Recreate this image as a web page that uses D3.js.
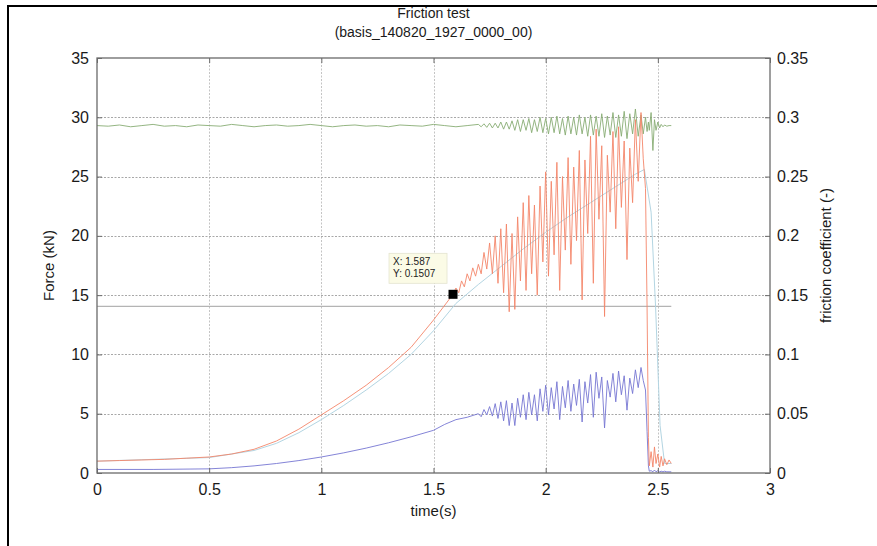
<!DOCTYPE html>
<html>
<head>
<meta charset="utf-8">
<script src="https://cdn.jsdelivr.net/npm/d3@7"></script>
<style>
  html, body { margin: 0; padding: 0; background: #fff; }
  svg { display: block; font-family: "Liberation Sans", Arial, sans-serif; }
</style>
</head>
<body>
<svg id="chart" width="877" height="546"></svg>
<script>
// ---------------- DATA ----------------
const titleLines = ["Friction test", "(basis_140820_1927_0000_00)"];
const xTicks = [0, 0.5, 1, 1.5, 2, 2.5, 3];
const forceTicks = [0, 5, 10, 15, 20, 25, 30, 35];
const coefTicks = [0, 0.05, 0.1, 0.15, 0.2, 0.25, 0.3, 0.35];

// shared time samples for the oscillating section and the tail
const oscTime = [1.7000,1.7125,1.7250,1.7375,1.7500,1.7625,1.7750,1.7875,1.8000,1.8125,
  1.8250,1.8375,1.8500,1.8625,1.8750,1.8875,1.9000,1.9125,1.9250,1.9375,
  1.9500,1.9625,1.9750,1.9875,2.0000,2.0125,2.0250,2.0375,2.0500,2.0625,
  2.0750,2.0875,2.1000,2.1125,2.1250,2.1375,2.1500,2.1625,2.1750,2.1875,
  2.2000,2.2125,2.2250,2.2375,2.2500,2.2625,2.2750,2.2875,2.3000,2.3125,
  2.3250,2.3375,2.3500,2.3625,2.3750,2.3875,2.4000,2.4125,2.4250];
const tailTime = [2.435,2.445,2.452,2.458,2.462,2.470,2.478,2.485,2.492,2.500,2.508,2.515,2.523,2.530,2.540,2.550,2.560];

// friction coefficient (red, right axis)
const redLeadTime = [0,0.1,0.2,0.3,0.4,0.5,0.6,0.7,0.8,0.9,1.0,1.1,1.2,1.3,1.4,1.5,1.587,1.6,1.6125,1.625,1.6375,1.65,1.6625,1.675,1.6875];
const redLead = [0.0100,0.0105,0.0110,0.0115,0.0125,0.0135,0.0160,0.0200,0.0270,0.0370,0.0490,0.0610,0.0740,0.0890,0.1060,0.1290,0.1507,0.1560,0.1520,0.1620,0.1570,0.1680,0.1620,0.1730,0.1660];
const redOsc = [0.176,0.168,0.186,0.172,0.194,0.168,0.200,0.160,0.206,0.152,
  0.210,0.136,0.202,0.138,0.216,0.162,0.228,0.154,0.234,0.168,
  0.226,0.150,0.242,0.178,0.254,0.166,0.246,0.184,0.262,0.154,
  0.250,0.188,0.266,0.176,0.258,0.196,0.272,0.146,0.264,0.202,
  0.284,0.160,0.290,0.214,0.276,0.132,0.268,0.220,0.288,0.206,
  0.292,0.224,0.280,0.180,0.274,0.228,0.298,0.246,0.304];
const redTail = [0.265,0.240,0.140,0.030,0.006,0.018,0.005,0.022,0.008,0.016,0.005,0.014,0.006,0.012,0.007,0.011,0.008];

// smoothed friction coefficient (light blue, right axis)
const cyanTime = [0,0.5,0.7,0.8,0.9,1.0,1.1,1.2,1.3,1.4,1.5,1.6,1.7,1.8,1.9,2.0,2.1,2.2,2.3,2.4,2.44,2.47,2.49,2.51,2.53,2.56];
const cyanCoef = [0.010,0.013,0.019,0.025,0.034,0.045,0.057,0.070,0.084,0.100,0.120,0.143,0.159,0.174,0.189,0.203,0.216,0.228,0.240,0.252,0.256,0.220,0.140,0.040,0.008,0.008];

// friction force (blue, left axis, kN)
const blueLeadTime = [0,0.25,0.5,0.6,0.7,0.8,0.9,1.0,1.1,1.2,1.3,1.4,1.5,1.55,1.6,1.65];
const blueLead = [0.30,0.30,0.35,0.45,0.60,0.80,1.05,1.35,1.70,2.10,2.55,3.05,3.60,4.10,4.50,4.70];
const blueOsc = [5.0,4.75,5.35,4.9,5.6,4.8,5.85,4.6,6.0,4.4,
  6.1,4.0,5.9,4.0,6.3,4.7,6.6,4.5,6.8,4.9,
  6.6,4.4,7.1,5.2,7.4,4.9,7.2,5.4,7.7,4.5,
  7.3,5.5,7.8,5.2,7.5,5.7,7.9,4.3,7.7,5.9,
  8.3,4.7,8.5,6.3,8.1,3.8,7.8,6.4,8.4,6.0,
  8.6,6.6,8.2,5.3,8.0,6.7,8.7,7.2,8.9];
const blueTail = [7.8,7.0,3.5,0.6,0.15,0.2,0.1,0.25,0.1,0.2,0.1,0.15,0.1,0.15,0.1,0.1,0.1];

// normal force (green, left axis, kN)
const greenLeadTime = [0,0.05,0.1,0.15,0.2,0.25,0.3,0.35,0.4,0.45,0.5,0.55,0.6,0.65,0.7,0.75,0.8,0.85,0.9,0.95,
  1.0,1.05,1.1,1.15,1.2,1.25,1.3,1.35,1.4,1.45,1.5,1.55,1.6,1.65];
const greenLead = [29.3,29.25,29.35,29.2,29.3,29.4,29.25,29.3,29.2,29.35,29.3,29.25,29.4,29.3,29.2,29.3,29.35,29.25,29.3,29.4,
  29.3,29.2,29.3,29.35,29.25,29.3,29.2,29.35,29.3,29.25,29.4,29.3,29.2,29.3];
const greenOsc = [29.4,29.2,29.45,29.15,29.5,29.1,29.5,29.1,29.6,29.0,
  29.6,29.0,29.7,28.9,29.8,28.8,29.8,28.9,29.9,28.7,
  29.8,28.8,30.0,28.7,29.9,28.6,30.0,28.7,30.1,28.6,
  29.9,28.5,30.1,28.6,30.0,28.5,30.2,28.6,30.0,28.4,
  30.2,28.5,30.1,28.4,30.3,28.3,30.1,28.5,30.4,28.3,
  30.2,28.4,30.5,28.2,30.3,28.6,30.7,28.4,30.2];
const greenTail = [28.6,30.0,28.8,29.6,28.9,30.4,27.2,29.8,28.9,29.6,29.1,29.4,29.2,29.35,29.25,29.3,29.3];

// reference level (grey, left axis, kN)
const refTime = [0, 2.56];
const refForce = [14.05, 14.05];

// data tip
const tipX = 1.587, tipY = 0.1507;

// ---------------- DRAW ----------------
const svg = d3.select("#chart");
const L = 97, R = 770, T = 58, B = 473;
const x = d3.scaleLinear().domain([0, 3]).range([L, R]);
const yF = d3.scaleLinear().domain([0, 35]).range([B, T]);
const yC = d3.scaleLinear().domain([0, 0.35]).range([B, T]);

// figure frame
svg.append("line").attr("x1", 8).attr("y1", 6).attr("x2", 8).attr("y2", 546).attr("stroke", "#000").attr("stroke-width", 2);
svg.append("line").attr("x1", 7).attr("y1", 6).attr("x2", 877).attr("y2", 6).attr("stroke", "#000").attr("stroke-width", 2);

// grid
const grid = svg.append("g").attr("stroke", "#c4c4c4").attr("stroke-width", 1).attr("stroke-dasharray", "2,1.5");
grid.selectAll(".vg").data(xTicks.slice(1, -1)).join("line")
  .attr("x1", d => Math.round(x(d)) + 0.5).attr("x2", d => Math.round(x(d)) + 0.5)
  .attr("y1", T).attr("y2", B);
grid.selectAll(".hg").data(forceTicks.slice(1, -1)).join("line")
  .attr("x1", L).attr("x2", R)
  .attr("y1", d => Math.round(yF(d)) + 0.5).attr("y2", d => Math.round(yF(d)) + 0.5)
  .attr("stroke", "#a8a8a8");

// series helpers
function pts(tArr, vArr) { return tArr.map((t, i) => [t, vArr[i]]); }
const lineF = d3.line().x(d => x(d[0])).y(d => yF(d[1]));
const lineC = d3.line().x(d => x(d[0])).y(d => yC(d[1]));

const refData = pts(refTime, refForce);
const greenData = pts(greenLeadTime, greenLead).concat(pts(oscTime, greenOsc), pts(tailTime, greenTail));
const blueData = pts(blueLeadTime, blueLead).concat(pts(oscTime, blueOsc), pts(tailTime, blueTail));
const redData = pts(redLeadTime, redLead).concat(pts(oscTime, redOsc), pts(tailTime, redTail));
const cyanData = pts(cyanTime, cyanCoef);

svg.append("path").datum(refData).attr("d", lineF).attr("fill", "none").attr("stroke", "#b4b4b4").attr("stroke-width", 1.2);
svg.append("path").datum(greenData).attr("d", lineF).attr("fill", "none").attr("stroke", "#88ad74").attr("stroke-width", 0.9);
svg.append("path").datum(cyanData).attr("d", lineC).attr("fill", "none").attr("stroke", "#b3d5e2").attr("stroke-width", 1);
svg.append("path").datum(blueData).attr("d", lineF).attr("fill", "none").attr("stroke", "#7676d2").attr("stroke-width", 0.9);
svg.append("path").datum(redData).attr("d", lineC).attr("fill", "none").attr("stroke", "#f4866a").attr("stroke-width", 0.9);

// axes
const axisColor = "#6a6a6a";
function styleAxis(g) {
  g.select(".domain").remove();
  g.selectAll(".tick line").attr("stroke", axisColor);
  g.selectAll(".tick text").attr("fill", "#1a1a1a").attr("font-size", 16);
}
svg.append("g").attr("transform", `translate(0,${B})`)
  .call(d3.axisBottom(x).tickValues(xTicks).tickFormat(d3.format("~g")).tickSizeInner(-5).tickSizeOuter(0).tickPadding(11))
  .call(styleAxis);
svg.append("g").attr("transform", `translate(0,${T})`)
  .call(d3.axisTop(x).tickValues(xTicks).tickFormat("").tickSizeInner(-5).tickSizeOuter(0))
  .call(styleAxis);
svg.append("g").attr("transform", `translate(${L},0)`)
  .call(d3.axisLeft(yF).tickValues(forceTicks).tickSizeInner(-5).tickSizeOuter(0).tickPadding(8))
  .call(styleAxis);
svg.append("g").attr("transform", `translate(${R},0)`)
  .call(d3.axisRight(yC).tickValues(coefTicks).tickFormat(d3.format("~g")).tickSizeInner(-5).tickSizeOuter(0).tickPadding(7))
  .call(styleAxis);

// axes box
svg.append("rect").attr("x", L).attr("y", T).attr("width", R - L).attr("height", B - T)
  .attr("fill", "none").attr("stroke", axisColor).attr("stroke-width", 1.3);

// titles
svg.append("text").attr("x", (L + R) / 2).attr("y", 18).attr("text-anchor", "middle")
  .attr("font-size", 14).attr("fill", "#1a1a1a").text(titleLines[0]);
svg.append("text").attr("x", (L + R) / 2).attr("y", 37).attr("text-anchor", "middle")
  .attr("font-size", 14).attr("fill", "#1a1a1a").text(titleLines[1]);
svg.append("text").attr("x", (L + R) / 2).attr("y", 516).attr("text-anchor", "middle")
  .attr("font-size", 15).attr("fill", "#1a1a1a").text("time(s)");
svg.append("text").attr("transform", `translate(54,${(T + B) / 2}) rotate(-90)`).attr("text-anchor", "middle")
  .attr("font-size", 15).attr("fill", "#1a1a1a").text("Force (kN)");
svg.append("text").attr("transform", `translate(831,${(T + B) / 2 - 10}) rotate(-90)`).attr("text-anchor", "middle")
  .attr("font-size", 15).attr("fill", "#1a1a1a").text("friction coefficient (-)");

// data tip
const tx = x(tipX), ty = yC(tipY);
const tip = svg.append("g");
tip.append("rect").attr("x", tx - 64).attr("y", ty - 41).attr("width", 58).attr("height", 30)
  .attr("fill", "#fbfbe6").attr("stroke", "#e4e4d0").attr("stroke-width", 0.8);
tip.append("text").attr("x", tx - 60).attr("y", ty - 29).attr("font-size", 10).attr("fill", "#222").text("X: " + tipX);
tip.append("text").attr("x", tx - 60).attr("y", ty - 17).attr("font-size", 10).attr("fill", "#222").text("Y: " + tipY);
tip.append("rect").attr("x", tx - 4.5).attr("y", ty - 4.5).attr("width", 9).attr("height", 9).attr("fill", "#000");
</script>
</body>
</html>
